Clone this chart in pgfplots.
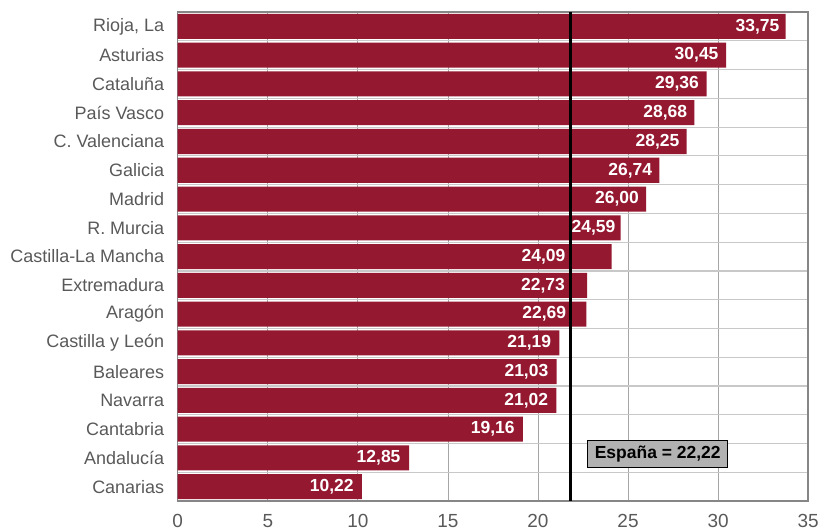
\documentclass[border=0pt]{standalone}
\usepackage{fontspec}
\setmainfont{Liberation Sans}
\usepackage{pgfplots}
\usepackage{pgfplotstable}
\pgfplotsset{compat=1.18}
\definecolor{barred}{RGB}{148,24,47}
\definecolor{txtgray}{RGB}{89,89,89}
\definecolor{framegray}{RGB}{134,134,134}
\definecolor{vgrid}{RGB}{166,166,166}
\definecolor{hgrid}{RGB}{200,200,200}
\definecolor{boxgray}{RGB}{178,178,178}
\pgfplotstableread{
x y gap
33.75 0 6
30.45 1 7.5
29.36 2 7.5
28.68 3 7
28.25 4 7
26.74 5 7
26.00 6 7
24.59 7 5
24.09 8 46
22.73 9 22
22.69 10 20
21.19 11 8
21.03 12 8
21.02 13 8
19.16 14 8
12.85 15 8.5
10.22 16 8
}\datatable
\begin{document}
\begin{tikzpicture}
\begin{axis}[
  scale only axis, width=629bp, height=488bp,
  xbar, bar width=0.87,
  xmin=0, xmax=35, ymin=-0.5, ymax=16.5, y dir=reverse,
  xtick={0,5,...,35},
  ytick={0,...,16},
  yticklabels={{Rioja, La},Asturias,Cataluña,País Vasco,C. Valenciana,Galicia,Madrid,R. Murcia,Castilla-La Mancha,Extremadura,Aragón,Castilla y León,Baleares,Navarra,Cantabria,Andalucía,Canarias},
  minor ytick={-0.5,0.5,...,16.5},
  yminorgrids, xmajorgrids,
  minor grid style={hgrid, line width=1.2bp},
  major grid style={vgrid, line width=0.8bp},
  axis line style={framegray, line width=1.5bp},
  major tick length=0pt, minor tick length=0pt,
  /pgf/number format/assume math mode=true,
  tick label style={text=txtgray},
  yticklabel style={xshift=-10bp, font=\fontsize{18}{21}\selectfont},
  xticklabel style={yshift=-10bp, font=\fontsize{19}{22}\selectfont},
]
\addplot[fill=barred, draw=none,
  visualization depends on={\thisrow{gap} \as \mygap},
  nodes near coords={\pgfmathprintnumber[fixed,zerofill,precision=2,use comma]{\pgfplotspointmeta}},
  point meta=x,
  every node near coord/.append style={anchor=east, text=white, inner xsep=0pt, inner ysep=2pt, xshift=-\mygap bp, font=\bfseries\fontsize{17.5}{20}\selectfont},
] table[x=x, y=y] {\datatable};
\draw[black, line width=3.2bp] (axis cs:21.8,-0.5) -- (axis cs:21.8,16.5);
\node[fill=boxgray, draw=black, line width=0.8bp, inner xsep=7bp, inner ysep=5.5bp, font=\bfseries\fontsize{17.5}{20}\selectfont] at (axis cs:26.65,14.86) {España = 22,22};
\end{axis}
\path ([yshift=12bp]current axis.north west) -- ([yshift=12bp]current axis.north east);
\path ([xshift=-7bp]current axis.outer west) -- ([xshift=-7bp]current axis.outer south west);
\end{tikzpicture}
\end{document}
